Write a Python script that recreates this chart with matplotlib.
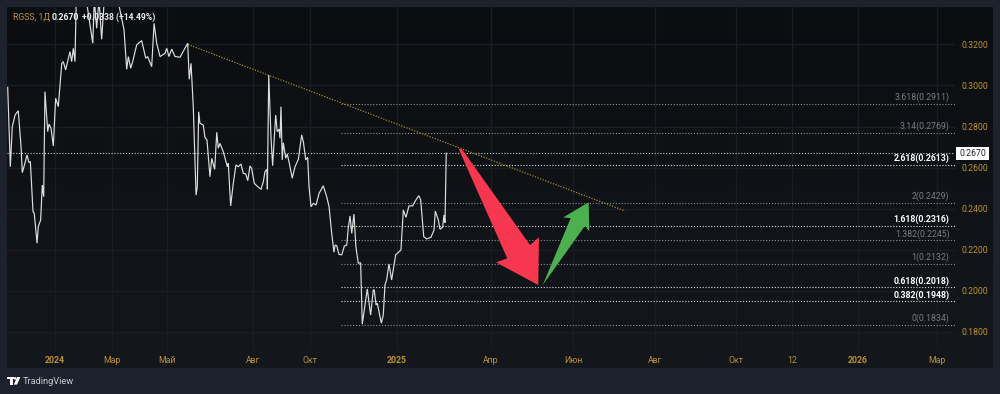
import numpy as np
import matplotlib
matplotlib.use("Agg")
import matplotlib.pyplot as plt
from matplotlib.patches import Polygon, Rectangle, Circle

# ---- data (x = trading session number, y = price) ----
sessions = [0.5,2.4,3.8,5.8,8.1,10.1,11.0,12.9,14.4,15.8,16.8,18.7,19.6,21.6,22.5,24.2,25.4,26.4,27.3,29.3,
 30.2,31.7,33.3,35.0,36.9,39.4,40.5,42.2,45.3,46.5,47.7,48.9,49.9,52.5,55.4,57.8,61.7,62.8,64.5,66.2,
 68.1,70.0,74.1,80.8,84.2,86.1,87.3,89.0,90.4,93.3,96.9,99.8,101.2,104.1,105.8,107.7,110.1,113.7,114.9,116.5,
 118.5,120.9,124.5,127.3,130.0,131.1,132.4,134.0,136.0,136.9,137.9,138.8,141.2,142.4,143.9,146.0,147.3,149.4,150.9,152.0,
 153.2,155.6,158.5,159.2,160.9,162.8,164.7,166.4,168.3,170.0,171.7,173.2,174.8,176.0,177.9,180.3,182.7,184.4,185.6,187.0,
 187.3,188.3,189.9,191.1,193.3,194.4,195.7,196.4,197.1,198.0,198.8,200.5,201.6,203.1,205.2,207.2,209.6,212.0,213.2,214.9,
 216.3,217.3,218.7,220.4,222.3,224.5,227.5,230.0,231.7,233.6,235.2,236.0,237.2,238.8,240.8,242.7,244.4,245.5,246.8,248.0,
 249.6,251.0,252.7,254.4,255.6,259.2,261.6,263.5,264.2,265.5,266.4,269.3,270.7,271.9,273.1,274.8,276.7,279.6,283.4,285.1,
 287.0,289.2,291.8,294.2,296.2,297.6,299.8,301.9,305.0,307.2,308.1,310.3,311.5,313.4,314.4,315.1,316.0]
prices = [.2991,.2604,.2799,.2856,.2877,.2702,.2575,.2621,.2661,.2624,.2629,.2385,.2377,.2231,.2312,.2344,.2515,.2458,.2970,.2775,
 .2812,.2791,.2705,.2938,.2897,.3108,.3116,.3076,.3165,.3116,.3181,.3116,.3450,.3460,.3417,.3383,.3206,.3420,.3279,.3420,
 .3225,.3420,.3450,.3383,.3271,.3079,.3141,.3084,.3116,.3198,.3219,.3133,.3141,.3092,.3303,.3206,.3141,.3157,.3181,.3141,
 .3177,.3141,.3138,.3173,.3206,.3030,.3108,.2897,.2466,.2507,.2872,.2816,.2807,.2747,.2734,.2555,.2645,.2591,.2772,.2694,
 .2718,.2677,.2604,.2621,.2413,.2523,.2612,.2604,.2617,.2572,.2569,.2536,.2608,.2596,.2523,.2507,.2494,.2531,.2580,.2591,
 .2494,.3051,.2750,.2609,.2856,.2775,.2787,.2743,.2897,.2637,.2721,.2645,.2666,.2621,.2548,.2604,.2640,.2759,.2726,.2637,
 .2650,.2507,.2409,.2426,.2417,.2474,.2511,.2458,.2409,.2279,.2187,.2222,.2219,.2177,.2174,.2217,.2222,.2304,.2364,.2279,
 .2373,.2214,.2133,.2136,.1837,.2008,.1881,.2003,.2003,.1930,.1938,.1841,.1881,.2027,.2052,.2130,.2052,.2174,.2198,.2393,
 .2357,.2413,.2413,.2442,.2463,.2442,.2263,.2252,.2260,.2295,.2388,.2344,.2299,.2309,.2369,.2331,.2670]

last_price = 0.2670
fib_labels = ["3.618(0.2911)","3.14(0.2769)","2.618(0.2613)","2(0.2429)","1.618(0.2316)",
              "1.382(0.2245)","1(0.2132)","0.618(0.2018)","0.382(0.1948)","0(0.1834)"]
fib_values = [0.2911,0.2769,0.2613,0.2429,0.2316,0.2245,0.2132,0.2018,0.1948,0.1834]
fib_strong = [False,False,True,False,True,False,False,True,True,False]
fib_start = 240.1

trend_x = [130.2, 444.6]
trend_y = [0.3200, 0.2388]

red_x = [325.0,327.3,376.3,382.7,382.2,351.8,359.9]
red_y = [.2690,.2690,.2222,.2260,.2027,.2138,.2157]
green_x = [385.4,405.5,400.2,418.5,418.9,415.8]
green_y = [.2027,.2353,.2357,.2431,.2291,.2316]

x_tick_pos = [34.5,75.5,115.1,177.0,218.0,280.6,348.2,407.2,466.2,524.4,564.7,612.2,669.0]
x_tick_lab = ["2024","Мар","Май","Авг","Окт","2025","Апр","Июн","Авг","Окт","12","2026","Мар"]
x_tick_bold = ["2024","2025","2026"]
y_ticks = [0.18,0.20,0.22,0.24,0.26,0.28,0.30,0.32]

# ---- style ----
plt.rcParams['font.family'] = ['Roboto', 'DejaVu Sans']
W, H = 1000, 394
BG = '#1e222d'; GRID = '#1a1d24'; GOLD = '#bb9230'

fig = plt.figure(figsize=(W/100, H/100), dpi=100, facecolor=BG)

def rect(l, t, r, b):
    return [l/W, 1-b/H, (r-l)/W, (b-t)/H]

# panel background: dark gradient, slightly lighter towards the bottom
bg = fig.add_axes(rect(7, 7, 993, 368)); bg.axis('off')
top_c = np.array([0x0b,0x0d,0x10]); bot_c = np.array([0x14,0x17,0x1c])
grad = np.linspace(0, 1, 256)[:, None, None]*(bot_c-top_c)[None, None, :] + top_c
bg.imshow(grad.astype(np.uint8), aspect='auto', extent=[0, 1, 0, 1], origin='upper')

ax = fig.add_axes(rect(7, 7, 955, 350), facecolor='none')
ax.set_xlim(0, 682.0)
ax.set_ylim(0.17104, 0.33827)
for s in ax.spines.values():
    s.set_visible(False)
ax.grid(True, color=GRID, lw=1.0, zorder=0)
ax.set_axisbelow(True)
ax.set_xticks(x_tick_pos)
ax.set_xticklabels(x_tick_lab)
ax.yaxis.tick_right()
ax.set_yticks(y_ticks)
ax.set_yticklabels([f"{v:.4f}" for v in y_ticks])
ax.tick_params(axis='x', length=0, pad=4.5, labelsize=6.3, colors=GOLD)
ax.tick_params(axis='y', length=0, pad=4.6, labelsize=6.3, colors=GOLD)
for lab in ax.get_xticklabels():
    if lab.get_text() in x_tick_bold:
        lab.set_fontweight('bold')

# current price line
ax.axhline(last_price, color='#c9cbcf', lw=0.8, ls=(0, (1, 1.6)), zorder=2)

# fibonacci levels
trans = ax.get_yaxis_transform()
for lab, val, strong in zip(fib_labels, fib_values, fib_strong):
    ax.plot([fib_start, 682.0], [val, val], color='#d8d9dc' if strong else '#8b8d92',
            lw=0.8, ls=(0, (1, 1.6)), zorder=2)
    ax.annotate(lab, xy=(1, val), xycoords=trans, xytext=(-4.0, 1.0), textcoords='offset points',
                ha='right', va='bottom', fontsize=6.3,
                color='#ffffff' if strong else '#787b81',
                fontweight='bold' if strong else 'normal', zorder=6)

# trend line
ax.plot(trend_x, trend_y, color='#a08c22', lw=0.9, ls=(0, (1, 1.2)), zorder=3)

# price series
ax.plot(sessions, prices, color='#dedede', lw=0.85, solid_joinstyle='miter', zorder=4)

# arrows
ax.add_patch(Polygon(np.column_stack([red_x, red_y]), closed=True, fc='#f7374f', ec='none', zorder=5))
ax.add_patch(Polygon(np.column_stack([green_x, green_y]), closed=True, fc='#4caf50', ec='none', zorder=5))

# overlay in pixel coordinates for chrome
ov = fig.add_axes([0, 0, 1, 1], facecolor='none'); ov.axis('off')
ov.set_xlim(0, W); ov.set_ylim(H, 0)

# last price tag
ov.add_patch(Rectangle((956, 147), 33, 13, fc='white', ec='none', zorder=7))
ov.text(972.5, 153.7, f"{last_price:.4f}", color='#222630', fontsize=6.3, ha='center', va='center', zorder=8)

# legend header
ov.text(13, 17, "RGSS, 1Д", color=GOLD, fontsize=6.3, va='center', zorder=8)
ov.text(52, 17, f"{last_price:.4f}", color='#f0f0f0', fontsize=6.3, va='center', fontweight='bold', zorder=8)
ov.text(82, 17, "+0.0338 (+14.49%)", color='#e8e8e8', fontsize=6.2, va='center', fontweight='bold', zorder=8)

# TradingView mark
ov.add_patch(Rectangle((7, 377), 6.5, 2.4, fc='white', ec='none'))
ov.add_patch(Rectangle((9.8, 377), 3, 7.5, fc='white', ec='none'))
ov.add_patch(Circle((15.2, 378.4), 1.3, fc='white', ec='none'))
ov.add_patch(Polygon([[17.2, 377], [20.4, 377], [17, 384.6], [13.8, 384.6]], closed=True, fc='white', ec='none'))
ov.text(23, 381.5, "TradingView", color='#c9ccd3', fontsize=6.7, va='center')

fig.savefig("out.png", dpi=100, facecolor=BG)
